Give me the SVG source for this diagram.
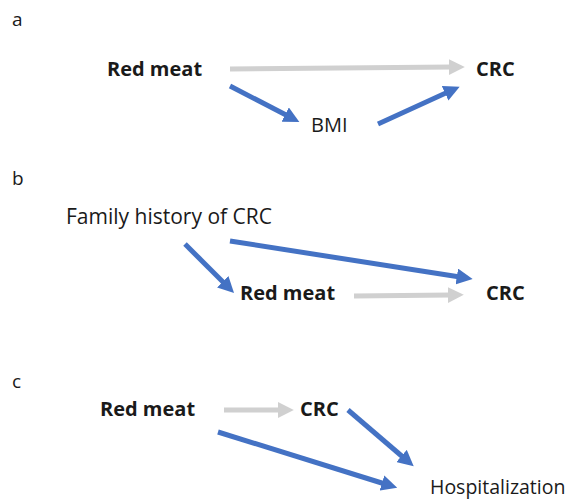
<svg xmlns="http://www.w3.org/2000/svg" width="580" height="500" viewBox="0 0 580 500">
  <style>
    text { font-family: "Open Sans", Lato, "Liberation Sans", sans-serif; fill: #1a1a1a; }
    .lbl { font-size: 20px; }
    .b { font-weight: bold; }
    .panel { font-size: 19px; }
    .blue { stroke: #4472C4; stroke-width: 5; fill: none; marker-end: url(#ahBlue); }
    .gray { stroke: #D0D0D0; stroke-width: 5; fill: none; marker-end: url(#ahGray); }
  </style>
  <defs>
    <marker id="ahBlue" viewBox="0 0 10 10" refX="2" refY="5" markerWidth="16" markerHeight="16" markerUnits="userSpaceOnUse" orient="auto">
      <path d="M0,0 L10,5 L0,10 z" fill="#4472C4"/>
    </marker>
    <marker id="ahGray" viewBox="0 0 10 10" refX="2" refY="5" markerWidth="16" markerHeight="16" markerUnits="userSpaceOnUse" orient="auto">
      <path d="M0,0 L10,5 L0,10 z" fill="#D0D0D0"/>
    </marker>
  </defs>

  <!-- panel letters -->
  <text class="panel" x="12" y="26">a</text>
  <text class="panel" x="12" y="185">b</text>
  <text class="panel" x="12" y="388">c</text>

  <!-- panel a nodes -->
  <g id="a-redmeat"><text class="lbl b" x="107" y="76">Red meat</text></g>
  <g id="a-crc"><text class="lbl b" x="476" y="76">CRC</text></g>
  <g id="a-bmi"><text class="lbl" x="311" y="132">BMI</text></g>

  <!-- panel b nodes -->
  <g id="b-family"><text class="lbl" x="66" y="224" style="font-size:21px">Family history of CRC</text></g>
  <g id="b-redmeat"><text class="lbl b" x="240" y="300">Red meat</text></g>
  <g id="b-crc"><text class="lbl b" x="486" y="300">CRC</text></g>

  <!-- panel c nodes -->
  <g id="c-redmeat"><text class="lbl b" x="100" y="416">Red meat</text></g>
  <g id="c-crc"><text class="lbl b" x="300" y="416">CRC</text></g>
  <g id="c-hosp"><text class="lbl" x="430" y="494" style="font-size:19.5px">Hospitalization</text></g>

  <g id="connectors">
    <!-- a -->
    <line class="gray" x1="230" y1="69" x2="452" y2="67"/>
    <line class="blue" x1="230" y1="86" x2="288" y2="116"/>
    <line class="blue" x1="378" y1="124" x2="448" y2="92"/>
    <!-- b -->
    <line class="blue" x1="185" y1="244" x2="225" y2="284"/>
    <line class="blue" x1="230" y1="241" x2="460" y2="277"/>
    <line class="gray" x1="354" y1="296" x2="451" y2="295"/>
    <!-- c -->
    <line class="gray" x1="224" y1="410" x2="281" y2="410"/>
    <line class="blue" x1="348" y1="410" x2="404" y2="458"/>
    <line class="blue" x1="218" y1="432" x2="385" y2="484"/>
  </g>
</svg>
